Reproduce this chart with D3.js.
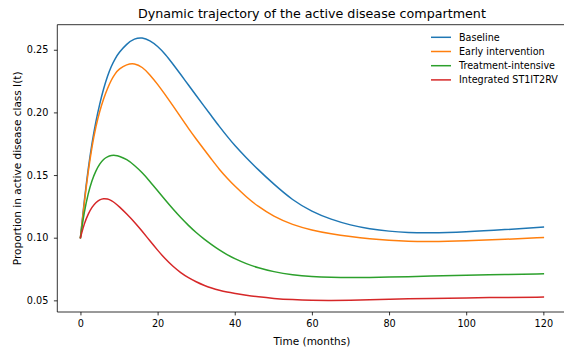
<!DOCTYPE html>
<html>
<head>
<meta charset="utf-8">
<script src="https://cdn.jsdelivr.net/npm/d3@7"></script>
<style>
  html, body { margin: 0; padding: 0; background: #fff; }
  svg { display: block; font-family: "DejaVu Sans", sans-serif; }
</style>
</head>
<body>
<div id="chart"></div>
<script>
const months = [0,1,2,3,4,5,6,7,8,9,10,12,14,16,18,20,22,24,26,28,30,32,34,36,38,40,43,46,50,55,60,65,70,75,80,85,90,100,110,120];

const baseline = [0.1000,0.1300,0.1550,0.1760,0.1930,0.2070,0.2190,0.2290,0.2370,0.2430,0.2478,0.2548,0.2590,0.2599,0.2574,0.2530,0.2465,0.2385,0.2303,0.2218,0.2135,0.2052,0.1970,0.1888,0.1810,0.1735,0.1637,0.1545,0.1430,0.1298,0.1208,0.1145,0.1100,0.1070,0.1051,0.1041,0.1037,0.1046,0.1064,0.1085];

const earlyIntervention = [0.1000,0.1280,0.1530,0.1730,0.1890,0.2010,0.2110,0.2190,0.2260,0.2310,0.2347,0.2384,0.2392,0.2364,0.2302,0.2225,0.2140,0.2052,0.1962,0.1872,0.1788,0.1705,0.1625,0.1545,0.1476,0.1412,0.1325,0.1250,0.1170,0.1102,0.1060,0.1030,0.1008,0.0991,0.0979,0.0971,0.0968,0.0974,0.0987,0.1002];

const treatmentIntensive = [0.1000,0.1210,0.1355,0.1460,0.1535,0.1590,0.1627,0.1647,0.1657,0.1658,0.1652,0.1626,0.1578,0.1520,0.1450,0.1375,0.1300,0.1228,0.1160,0.1098,0.1040,0.0990,0.0945,0.0902,0.0865,0.0832,0.0792,0.0760,0.0728,0.0703,0.0690,0.0684,0.0682,0.0683,0.0686,0.0689,0.0693,0.0700,0.0706,0.0712];

const integrated = [0.1000,0.1115,0.1190,0.1245,0.1282,0.1304,0.1313,0.1310,0.1297,0.1276,0.1250,0.1190,0.1125,0.1052,0.0975,0.0900,0.0830,0.0770,0.0720,0.0680,0.0648,0.0620,0.0598,0.0580,0.0566,0.0556,0.0541,0.0528,0.0515,0.0505,0.0500,0.0499,0.0501,0.0504,0.0508,0.0512,0.0515,0.0520,0.0523,0.0526];

const seriesNames = ["Baseline", "Early intervention", "Treatment-intensive", "Integrated ST1IT2RV"];
const seriesValues = [baseline, earlyIntervention, treatmentIntensive, integrated];
const seriesColors = ["#1f77b4", "#ff7f0e", "#2ca02c", "#d62728"];

const xTicks = [0, 20, 40, 60, 80, 100, 120];
const yTicks = [0.05, 0.10, 0.15, 0.20, 0.25];

const chartTitle = "Dynamic trajectory of the active disease compartment";
const xLabel = "Time (months)";
const yLabel = "Proportion in active disease class I(t)";

(function () {
const W = 564, H = 349;
const mLeft = 57.3, mRight = 566.5, mTop = 24.7, mBottom = 312;

const svg = d3.select("#chart").append("svg").attr("width", W).attr("height", H);

const x = d3.scaleLinear().domain([-6, 126]).range([mLeft, mRight]);
const y = d3.scaleLinear().domain([0.0407, 0.2700]).range([mBottom, mTop]);

const fsTick = 9.7, fsLabel = 10.5, fsTitle = 12.7, fsLegend = 9.6;

// lines
const line = d3.line().x(d => x(d[0])).y(d => y(d[1])).curve(d3.curveBasis);
seriesValues.forEach((vals, i) => {
  svg.append("path")
    .datum(months.map((m, j) => [m, vals[j]]))
    .attr("fill", "none")
    .attr("stroke", seriesColors[i])
    .attr("stroke-width", 1.5)
    .attr("stroke-linejoin", "round")
    .attr("stroke-linecap", "square")
    .attr("d", line);
});

// axes
const xAxis = d3.axisBottom(x).tickValues(xTicks).tickFormat(d3.format("d")).tickSizeOuter(0).tickSize(3.4).tickPadding(4.5);
const gx = svg.append("g").attr("transform", `translate(0,${mBottom})`).call(xAxis);
const yAxis = d3.axisLeft(y).tickValues(yTicks).tickFormat(d3.format(".2f")).tickSizeOuter(0).tickSize(3.4).tickPadding(5.5);
const gy = svg.append("g").attr("transform", `translate(${mLeft},0)`).call(yAxis);

[gx, gy].forEach(g => {
  g.select(".domain").remove();
  g.selectAll(".tick line").attr("stroke", "#000").attr("stroke-width", 0.8);
  g.selectAll(".tick text").attr("fill", "#000").style("font-size", fsTick + "px").style("font-family", "DejaVu Sans");
});
gx.selectAll(".tick text").attr("dy", "0.71em");

// spines
const spine = (x1, y1, x2, y2) => svg.append("line").attr("x1", x1).attr("x2", x2).attr("y1", y1).attr("y2", y2).attr("stroke", "#000").attr("stroke-width", 0.8);
spine(mLeft, mTop, mLeft, mBottom);
spine(mLeft, mBottom, mRight, mBottom);
spine(mLeft, mTop, mRight, mTop);
spine(mRight, mTop, mRight, mBottom);

// title
svg.append("text").attr("x", (mLeft + mRight) / 2).attr("y", 17.8).attr("text-anchor", "middle")
  .style("font-size", fsTitle + "px").attr("fill", "#000").text(chartTitle);

// x label
svg.append("text").attr("x", (mLeft + mRight) / 2).attr("y", 344.5).attr("text-anchor", "middle")
  .style("font-size", fsLabel + "px").attr("fill", "#000").text(xLabel);

// y label
svg.append("text").attr("transform", `translate(20.5,${(mTop + mBottom) / 2}) rotate(-90)`).attr("text-anchor", "middle")
  .style("font-size", fsLabel + "px").attr("fill", "#000").text(yLabel);

// legend
const legendRows = [37.3, 51.5, 65.7, 79.9];
seriesNames.forEach((name, i) => {
  const ly = legendRows[i];
  svg.append("line").attr("x1", 431).attr("x2", 451).attr("y1", ly).attr("y2", ly)
    .attr("stroke", seriesColors[i]).attr("stroke-width", 1.5);
  svg.append("text").attr("x", 459).attr("y", ly).attr("dy", "0.36em")
    .style("font-size", fsLegend + "px").attr("fill", "#000").text(name);
});
})();
</script>
</body>
</html>
